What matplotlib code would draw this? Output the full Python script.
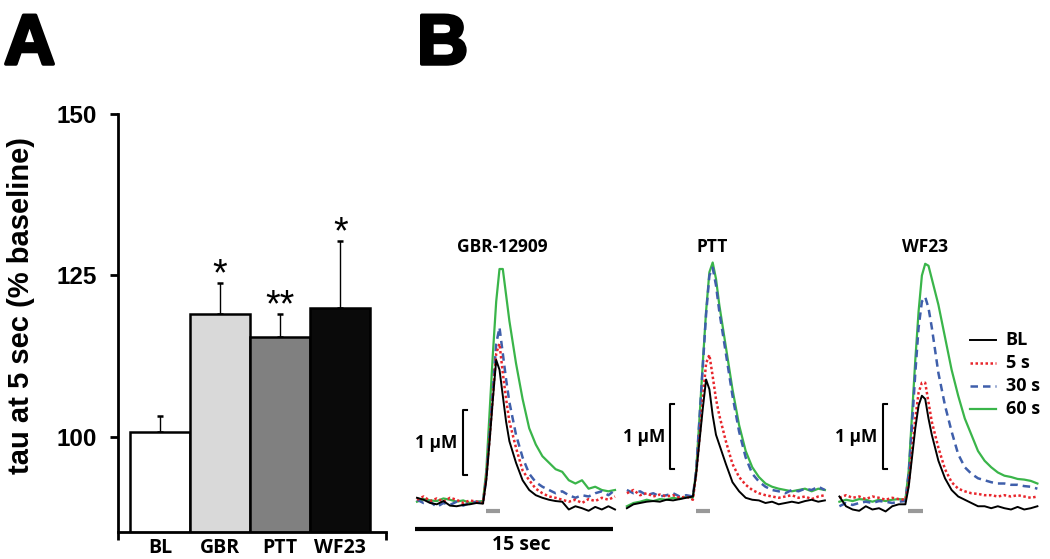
import matplotlib
matplotlib.use("Agg")
import matplotlib.pyplot as plt
import matplotlib.patheffects as pe
import numpy as np

# Panel A: tau at 5 sec (% baseline)
grupos = ["BL", "GBR", "PTT", "WF23"]
tau_medias = [100.7, 119.0, 115.5, 120.0]
tau_error = [2.5, 4.8, 3.5, 10.3]
signif = ["", "*", "**", "*"]
colores_barras = ["white", "#d9d9d9", "#808080", "#0a0a0a"]

# Panel B: traces (µM) sampled on a common time grid (s)
tiempo = [0, 0.5, 1.0, 1.5, 2.0, 2.5, 3.0, 3.5, 4.0, 4.5, 5.0,
          5.25, 5.5, 5.75, 6.0, 6.25, 6.5, 6.75, 7.0, 7.5, 8.0, 8.5, 9.0,
          9.5, 10.0, 10.5, 11.0, 11.5, 12.0, 12.5, 13.0, 13.5, 14.0, 14.5, 15.0]
farmacos = ["GBR-12909", "PTT", "WF23"]
condiciones = ["BL", "5 s", "30 s", "60 s"]

gbr_bl = [0.08, 0.05, 0.0, -0.02, 0.03, -0.04, -0.05, -0.03, -0.02, 0.0, -0.01,
          0.35, 0.95, 1.6, 2.2, 2.05, 1.65, 1.25, 0.95, 0.62, 0.35, 0.2, 0.12,
          0.08, 0.05, 0.03, 0.02, -0.1, -0.05, -0.08, -0.12, -0.06, -0.1, -0.05, -0.1]
gbr_5s = [0.05, 0.1, 0.03, 0.07, 0.02, 0.08, 0.05, 0.0, 0.04, 0.02, 0.0,
          0.4, 1.0, 1.65, 2.3, 2.45, 2.0, 1.6, 1.25, 0.85, 0.5, 0.35, 0.22,
          0.15, 0.1, 0.08, 0.05, 0.02, 0.05, 0.0, 0.06, 0.03, 0.08, 0.05, 0.1]
gbr_30s = [0.05, 0.0, 0.02, -0.06, 0.0, -0.03, 0.02, -0.04, 0.0, 0.02, 0.0,
           0.4, 1.05, 1.75, 2.45, 2.7, 2.3, 1.9, 1.55, 1.05, 0.7, 0.45, 0.32,
           0.25, 0.2, 0.15, 0.18, 0.12, 0.08, 0.12, 0.1, 0.15, 0.18, 0.12, 0.2]
gbr_60s = [0.02, 0.06, 0.04, 0.03, 0.07, 0.05, 0.02, 0.04, 0.0, 0.02, 0.03,
           0.5, 1.4, 2.3, 3.1, 3.6, 3.6, 3.2, 2.8, 2.15, 1.6, 1.15, 0.9,
           0.72, 0.62, 0.52, 0.48, 0.35, 0.3, 0.35, 0.22, 0.25, 0.2, 0.18, 0.2]

ptt_bl = [-0.08, -0.02, 0.0, 0.02, 0.03, 0.02, 0.05, 0.04, 0.06, 0.08, 0.1,
          0.45, 0.95, 1.45, 1.9, 1.75, 1.35, 1.05, 0.9, 0.6, 0.32, 0.18, 0.08,
          0.05, 0.04, 0.0, 0.02, -0.02, 0.0, 0.02, 0.0, 0.03, 0.05, 0.02, 0.04]
ptt_5s = [0.15, 0.2, 0.12, 0.15, 0.1, 0.13, 0.1, 0.12, 0.08, 0.1, 0.05,
          0.45, 1.0, 1.6, 2.15, 2.28, 1.95, 1.6, 1.35, 0.95, 0.6, 0.4, 0.28,
          0.2, 0.15, 0.12, 0.1, 0.08, 0.1, 0.12, 0.08, 0.1, 0.06, 0.1, 0.12]
ptt_30s = [0.2, 0.15, 0.18, 0.12, 0.15, 0.1, 0.12, 0.15, 0.1, 0.12, 0.1,
           0.5, 1.3, 2.1, 2.9, 3.5, 3.62, 3.35, 2.95, 2.3, 1.65, 1.1, 0.7,
           0.45, 0.33, 0.25, 0.2, 0.18, 0.15, 0.2, 0.18, 0.22, 0.2, 0.25, 0.2]
ptt_60s = [-0.05, 0.0, 0.02, 0.05, 0.03, 0.06, 0.05, 0.08, 0.06, 0.1, 0.08,
           0.5, 1.3, 2.15, 2.95, 3.55, 3.7, 3.45, 3.05, 2.4, 1.75, 1.2, 0.8,
           0.55, 0.4, 0.3, 0.25, 0.22, 0.2, 0.18, 0.2, 0.22, 0.18, 0.22, 0.2]

wf_bl = [0.1, -0.05, -0.1, -0.12, -0.05, -0.1, -0.08, -0.13, -0.05, -0.02, -0.02,
         0.25, 0.7, 1.15, 1.5, 1.65, 1.6, 1.3, 1.05, 0.65, 0.38, 0.2, 0.1,
         0.05, 0.0, -0.05, -0.05, -0.08, -0.05, -0.08, -0.1, -0.06, -0.1, -0.08, -0.05]
wf_5s = [0.08, 0.12, 0.08, 0.1, 0.06, 0.1, 0.08, 0.05, 0.08, 0.06, 0.05,
         0.3, 0.8, 1.3, 1.7, 1.85, 1.85, 1.55, 1.25, 0.85, 0.52, 0.32, 0.22,
         0.18, 0.15, 0.14, 0.12, 0.12, 0.1, 0.12, 0.1, 0.12, 0.1, 0.08, 0.1]
wf_30s = [-0.05, 0.0, -0.03, 0.0, 0.02, 0.0, 0.03, 0.02, 0.0, 0.02, 0.03,
          0.45, 1.2, 2.0, 2.7, 3.1, 3.17, 3.0, 2.7, 2.0, 1.5, 1.1, 0.75,
          0.55, 0.45, 0.38, 0.35, 0.32, 0.3, 0.3, 0.28, 0.28, 0.26, 0.25, 0.22]
wf_60s = [0.02, 0.05, 0.03, 0.06, 0.05, 0.02, 0.05, 0.03, 0.05, 0.06, 0.05,
          0.5, 1.35, 2.2, 2.95, 3.5, 3.68, 3.65, 3.45, 3.05, 2.55, 2.05, 1.65,
          1.3, 1.05, 0.8, 0.65, 0.55, 0.47, 0.42, 0.4, 0.37, 0.36, 0.34, 0.3]

trazas = [
    [gbr_bl, gbr_5s, gbr_30s, gbr_60s],
    [ptt_bl, ptt_5s, ptt_30s, ptt_60s],
    [wf_bl, wf_5s, wf_30s, wf_60s],
]


def generar_grafico():
    fig = plt.figure(figsize=(10.5, 5.59), dpi=100)
    W, H = 1050.0, 559.0

    # ---------- Panel B (ejes de toda la figura, en s y µM) ----------
    px_s, px_uM, x0, y0 = 13.2, 65.0, 417.0, 503.0
    axb = fig.add_axes([0, 0, 1, 1], zorder=0)
    axb.set_xlim(-x0 / px_s, (W - x0) / px_s)
    axb.set_ylim((y0 - H) / px_uM, y0 / px_uM)
    axb.axis("off")

    estilos = [
        dict(color="black", lw=1.4, ls="-"),
        dict(color="#e8262c", lw=1.8, ls=(0, (1, 1))),
        dict(color="#3f5fab", lw=1.8, ls=(0, (3, 2))),
        dict(color="#3ab54a", lw=1.6, ls="-"),
    ]
    offsets = [0.0, 15.9, 32.0]
    fuente_b = "Open Sans"
    t = np.array(tiempo)
    for i, (nombre, off) in enumerate(zip(farmacos, offsets)):
        for j in [3, 2, 1, 0]:
            axb.plot(t + off, trazas[i][j], **estilos[j], zorder=2 + (3 - j))
        # estímulo
        axb.plot([off + 5.2, off + 6.3], [-0.12, -0.12], color="#999999", lw=3,
                 solid_capstyle="butt")
        axb.text(off + 6.5, 3.94, nombre, ha="center", va="center",
                 fontsize=12.5, fontweight="bold", family=fuente_b)

    # escala 1 µM
    for xb, y_lo, xl in [(3.5, 0.43, 3.05), (19.2, 0.52, 18.8), (35.3, 0.52, 34.85)]:
        axb.plot([xb + 0.3, xb, xb, xb + 0.3], [y_lo, y_lo, y_lo + 1, y_lo + 1],
                 color="black", lw=1.5)
        axb.text(xl, y_lo + 0.5, "1 µM", ha="right", va="center",
                 fontsize=12.5, fontweight="bold", family=fuente_b)

    # escala 15 s
    axb.plot([-0.15, 14.85], [-0.4, -0.4], color="black", lw=3, solid_capstyle="butt")
    axb.text(7.9, -0.64, "15 sec", ha="center", va="center", fontsize=14,
             fontweight="bold", family=fuente_b)

    # leyenda
    ys_leg = [2.51, 2.15, 1.80, 1.45]
    for j, (cond, yl) in enumerate(zip(condiciones, ys_leg)):
        axb.plot([41.9, 43.9], [yl, yl], **estilos[j])
        axb.text(44.6, yl, cond, ha="left", va="center", fontsize=13,
                 fontweight="bold", family=fuente_b)

    # ---------- Panel A ----------
    ax = fig.add_axes([118 / W, (H - 531.5) / H, 268 / W, 417.5 / H], zorder=1)
    x = np.arange(len(grupos))
    ax.bar(x, tau_medias, width=1.0, color=colores_barras, edgecolor="black",
           linewidth=1.8, zorder=2)
    ax.errorbar(x, tau_medias, yerr=[np.zeros(len(x)), tau_error], fmt="none",
                ecolor="black", elinewidth=1.0, capsize=2.5, capthick=1.8, zorder=1)
    for xi, m, e, s in zip(x, tau_medias, tau_error, signif):
        if s:
            ax.text(xi, m + e + 1.2, s, ha="center", va="center", fontsize=27,
                    family="Liberation Sans")

    ax.set_xlim(-0.70, 3.76)
    ax.set_ylim(85.3, 150)
    ax.set_yticks([100, 125, 150])
    ax.set_xticks(x)
    ax.set_xticklabels(grupos, fontsize=14, fontweight="bold", family=fuente_b)
    ax.set_xticks([-0.70, 3.76], minor=True)
    for lab in ax.get_yticklabels():
        lab.set_fontsize(17.5)
        lab.set_fontweight("bold")
        lab.set_family("Liberation Sans")
    ax.tick_params(axis="y", length=6, width=2, pad=9, direction="out")
    ax.tick_params(axis="x", which="major", length=0, pad=5)
    ax.tick_params(axis="x", which="minor", length=6, width=2, direction="out")
    for lado in ["top", "right"]:
        ax.spines[lado].set_visible(False)
    for lado in ["left", "bottom"]:
        ax.spines[lado].set_linewidth(2)
    ax.patch.set_alpha(0)

    fig.text(21 / W, 1 - 306 / H, "tau at 5 sec (% baseline)", rotation=90,
             ha="center", va="center", fontsize=21, fontweight="bold",
             family="Liberation Sans")

    # letras de panel
    for letra, xp in [("A", 4), ("B", 417)]:
        fig.text(xp / W, 1 - 64 / H, letra, ha="left", va="baseline", fontsize=51,
                 fontweight="bold", family="Liberation Sans",
                 path_effects=[pe.withStroke(linewidth=2.5, foreground="black")])

    fig.savefig("out.png", dpi=100)
    plt.close(fig)


if __name__ == "__main__":
    generar_grafico()
